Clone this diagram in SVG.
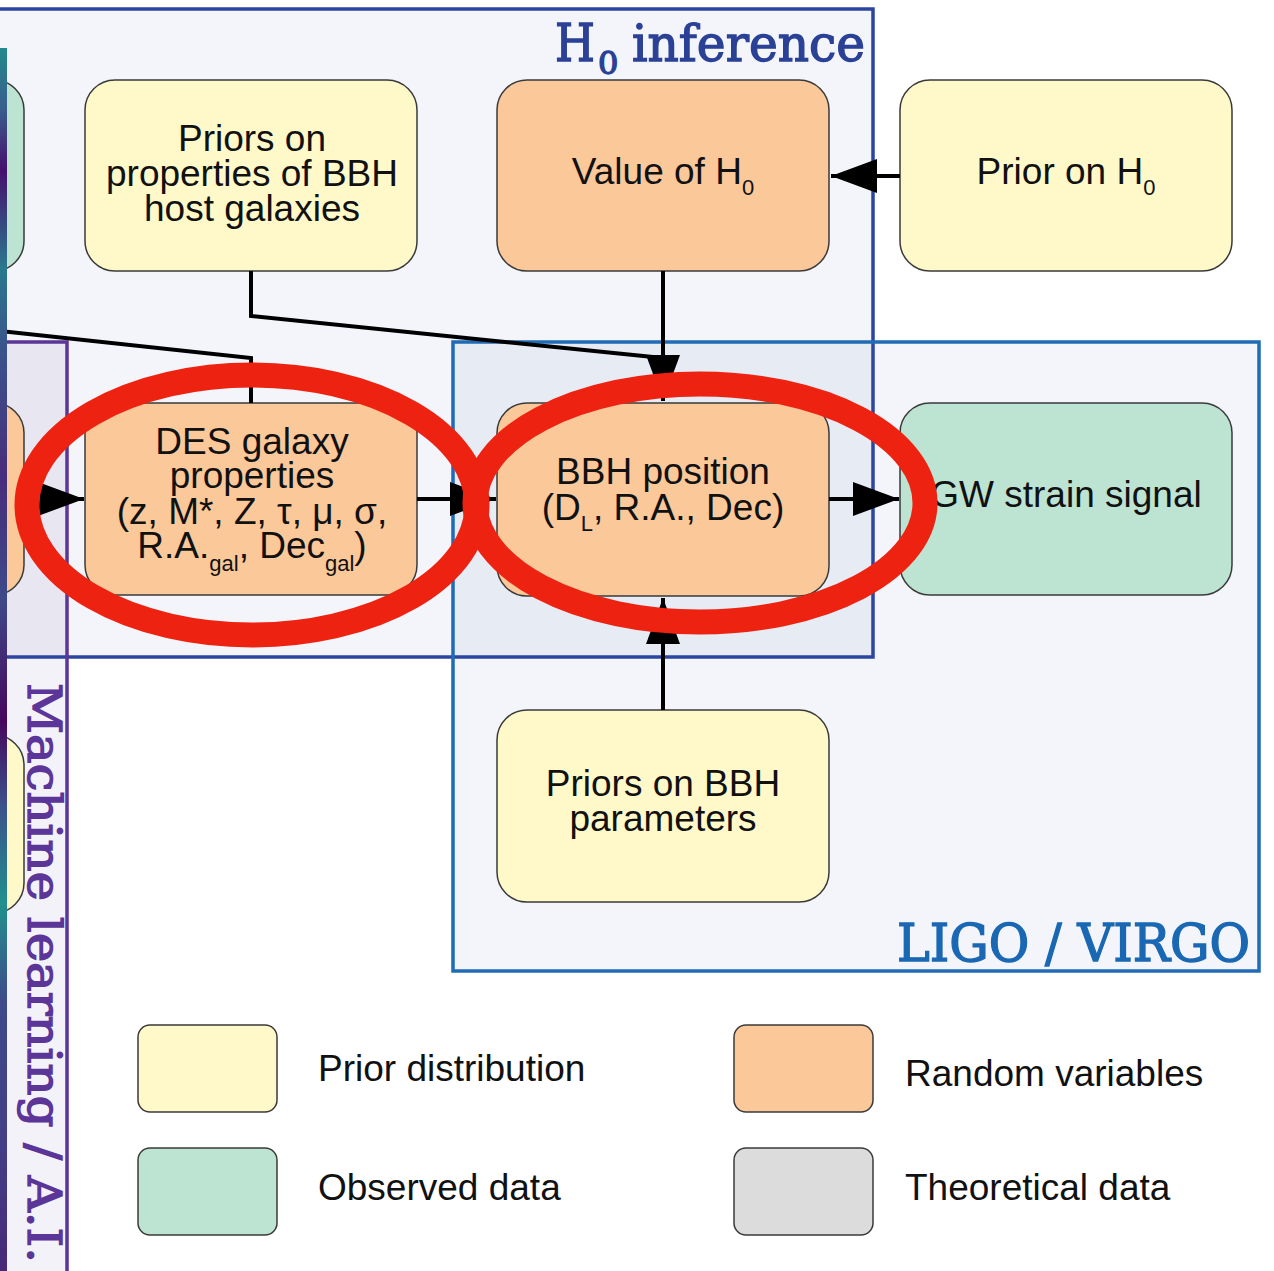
<svg xmlns="http://www.w3.org/2000/svg" width="1274" height="1271" viewBox="0 0 1274 1271">
<defs>
<style>
.nd{stroke:#3a3a3a;stroke-width:1.5}
.pr{fill:#fff9c9}
.rv{fill:#fbc89a}
.ob{fill:#bde3d2}
.th{fill:#dcdcdc}
.t{font-family:"Liberation Sans",Arial,sans-serif;font-size:37px;fill:#111;text-anchor:middle}
.lt{font-family:"Liberation Sans",Arial,sans-serif;font-size:37px;fill:#111}
.sb{font-size:22px}
.c{fill:none;stroke:#000;stroke-width:4}
.ring{fill:none;stroke:#ee2211;stroke-width:25}
.ttl{font-family:"DejaVu Serif","Liberation Serif",serif;stroke-width:1.4}
.h0{fill:#2a4196;stroke:#2a4196}
.lv{fill:#1a68b3;stroke:#1a68b3}
.ml{fill:#5b3598;stroke:#5b3598}
</style>
<marker id="ah" markerUnits="userSpaceOnUse" markerWidth="48" markerHeight="36" refX="46" refY="17" orient="auto">
<path d="M0,0 L46,17 L0,34 Z" fill="#000"/>
</marker>
<linearGradient id="strip" x1="0" y1="0" x2="0" y2="1">
<stop offset="0" stop-color="#238a8d"/>
<stop offset="0.05" stop-color="#3a5e8c"/>
<stop offset="0.1" stop-color="#45106e"/>
<stop offset="0.18" stop-color="#2a788e"/>
<stop offset="0.25" stop-color="#3b528b"/>
<stop offset="0.35" stop-color="#472d7b"/>
<stop offset="0.45" stop-color="#3e4a89"/>
<stop offset="0.55" stop-color="#46085c"/>
<stop offset="0.62" stop-color="#3b528b"/>
<stop offset="0.7" stop-color="#21908d"/>
<stop offset="0.78" stop-color="#3e4a89"/>
<stop offset="0.9" stop-color="#433e85"/>
<stop offset="1" stop-color="#482878"/>
</linearGradient>
</defs>
<rect x="0" y="0" width="1274" height="1271" fill="#fff"/>

<g id="group-boxes">
<rect x="-20" y="9" width="893" height="648" fill="#f3f5fa"/>
<rect x="453" y="342" width="806" height="629" fill="#f3f5fa"/>
<rect x="453" y="342" width="420" height="315" fill="#e6ebf4"/>
<rect x="-20" y="342" width="87" height="960" fill="#f3f2f8"/>
<rect x="-20" y="342" width="87" height="315" fill="#e8e6f1"/>
<rect x="-20" y="9" width="893" height="648" fill="none" stroke="#2b45a0" stroke-width="3.5"/>
<rect x="453" y="342" width="806" height="629" fill="none" stroke="#1f6bb5" stroke-width="3.5"/>
<rect x="-20" y="342" width="87" height="960" fill="none" stroke="#5b3598" stroke-width="3.5"/>
<text class="ttl h0" x="555" y="61" font-size="52" textLength="40" lengthAdjust="spacingAndGlyphs">H</text>
<text class="ttl h0" x="598" y="74" font-size="32">0</text>
<text class="ttl h0" x="632" y="61" font-size="51" textLength="233" lengthAdjust="spacingAndGlyphs">inference</text>
<text class="ttl lv" x="897" y="961" font-size="52" textLength="353" lengthAdjust="spacingAndGlyphs">LIGO / VIRGO</text>
<text class="ttl ml" transform="translate(28,683) rotate(90)" x="0" y="0" font-size="46" textLength="580" lengthAdjust="spacingAndGlyphs">Machine learning / A.I.</text>
</g>

<g id="node-left-obs"><rect class="nd ob" x="-308" y="80" width="332" height="191" rx="30"/></g>
<g id="node-left-rv"><rect class="nd rv" x="-308" y="403" width="332" height="192" rx="30"/></g>
<g id="node-left-prior"><rect class="nd pr" x="-308" y="735" width="332" height="178" rx="30"/></g>

<g id="node-priors-host">
<rect class="nd pr" x="85" y="80" width="332" height="191" rx="30"/>
<text class="t" x="252" y="151">Priors on</text>
<text class="t" x="252" y="186">properties of BBH</text>
<text class="t" x="252" y="221">host galaxies</text>
</g>
<g id="node-value-h0">
<rect class="nd rv" x="497" y="80" width="332" height="191" rx="30"/>
<text class="t" x="663" y="184">Value of H<tspan class="sb" dy="11">0</tspan></text>
</g>
<g id="node-prior-h0">
<rect class="nd pr" x="900" y="80" width="332" height="191" rx="30"/>
<text class="t" x="1066" y="184">Prior on H<tspan class="sb" dy="11">0</tspan></text>
</g>
<g id="node-des">
<rect class="nd rv" x="85" y="403" width="332" height="192" rx="30"/>
<text class="t" x="252" y="454">DES galaxy</text>
<text class="t" x="252" y="488">properties</text>
<text class="t" x="252" y="524">(z, M*, Z, τ, μ, σ,</text>
<text class="t" x="252" y="558">R.A.<tspan class="sb" dy="13">gal</tspan><tspan dy="-13">, Dec</tspan><tspan class="sb" dy="13">gal</tspan><tspan dy="-13">)</tspan></text>
</g>
<g id="node-bbh">
<rect class="nd rv" x="497" y="403" width="332" height="193" rx="30"/>
<text class="t" x="663" y="484">BBH position</text>
<text class="t" x="663" y="520">(D<tspan class="sb" dy="11">L</tspan><tspan dy="-11">, R.A., Dec)</tspan></text>
</g>
<g id="node-gw">
<rect class="nd ob" x="900" y="403" width="332" height="192" rx="30"/>
<text class="t" x="1066" y="507">GW strain signal</text>
</g>
<g id="node-priors-bbh">
<rect class="nd pr" x="497" y="710" width="332" height="192" rx="30"/>
<text class="t" x="663" y="796">Priors on BBH</text>
<text class="t" x="663" y="831">parameters</text>
</g>

<g id="connectors">
<polyline class="c" points="251,271 251,316 663,358"/>
<line class="c" x1="663" y1="271" x2="663" y2="401" marker-end="url(#ah)"/>
<line class="c" x1="900" y1="176" x2="831" y2="176" marker-end="url(#ah)"/>
<polyline class="c" points="0,331 251,358 251,403"/>
<line class="c" x1="24" y1="499" x2="84" y2="499" marker-end="url(#ah)"/>
<line class="c" x1="417" y1="499" x2="496" y2="499" marker-end="url(#ah)"/>
<line class="c" x1="829" y1="499" x2="899" y2="499" marker-end="url(#ah)"/>
<line class="c" x1="663" y1="710" x2="663" y2="598" marker-end="url(#ah)"/>
</g>

<rect x="0" y="48" width="7" height="1223" fill="url(#strip)"/>

<g id="highlights">
<ellipse class="ring" cx="252" cy="505" rx="225" ry="130"/>
<ellipse class="ring" cx="700" cy="503" rx="225" ry="119"/>
</g>

<g id="legend">
<rect class="nd pr" x="138" y="1025" width="139" height="87" rx="12"/>
<text class="lt" x="318" y="1081">Prior distribution</text>
<rect class="nd rv" x="734" y="1025" width="139" height="87" rx="12"/>
<text class="lt" x="905" y="1086">Random variables</text>
<rect class="nd ob" x="138" y="1148" width="139" height="87" rx="12"/>
<text class="lt" x="318" y="1200">Observed data</text>
<rect class="nd th" x="734" y="1148" width="139" height="87" rx="12"/>
<text class="lt" x="905" y="1200">Theoretical data</text>
</g>
</svg>
